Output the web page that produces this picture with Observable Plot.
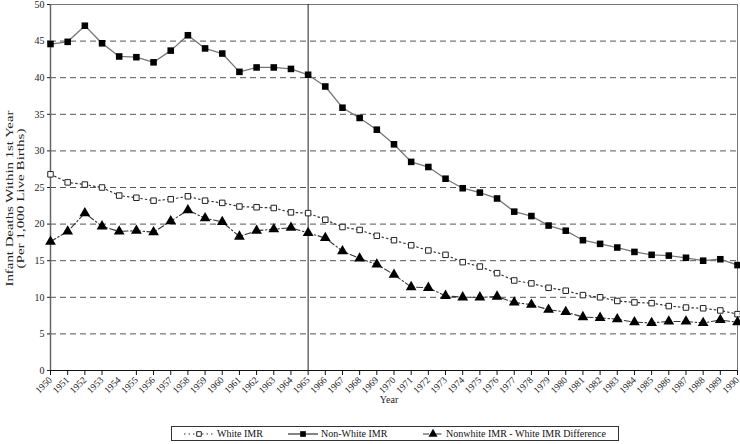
<!DOCTYPE html>
<html><head><meta charset="utf-8">
<script src="https://cdn.jsdelivr.net/npm/d3@7"></script>
<script src="https://cdn.jsdelivr.net/npm/@observablehq/plot@0.6"></script>
<style>
html,body{margin:0;padding:0;background:#fff;}
body{width:740px;height:444px;position:relative;overflow:hidden;font-family:'Liberation Serif','Tinos','Times New Roman','DejaVu Serif',serif;}
#chart{position:absolute;left:0;top:0;}
#chart svg, #chart svg text{font-family:'Liberation Serif','Tinos','Times New Roman','DejaVu Serif',serif !important;}
#legend{position:absolute;left:171px;top:426px;width:448px;height:15px;border:1px solid #333;box-sizing:border-box;font-size:10px;color:#111;}
.item{position:absolute;top:0;height:13px;display:flex;align-items:center;white-space:nowrap;}
.item svg{margin-right:3px;}
</style></head><body>
<div id="chart"></div>
<div id="legend"></div>
<script>
const years = [1950,1951,1952,1953,1954,1955,1956,1957,1958,1959,1960,1961,1962,1963,1964,1965,1966,1967,1968,1969,1970,1971,1972,1973,1974,1975,1976,1977,1978,1979,1980,1981,1982,1983,1984,1985,1986,1987,1988,1989,1990];
const whiteIMR = [26.8,25.7,25.4,25.0,23.9,23.6,23.2,23.4,23.8,23.2,22.9,22.4,22.3,22.2,21.6,21.5,20.6,19.6,19.2,18.4,17.8,17.1,16.4,15.8,14.8,14.2,13.3,12.3,11.9,11.3,10.9,10.3,10.0,9.5,9.3,9.2,8.8,8.6,8.5,8.2,7.7];
const nonWhiteIMR = [44.6,44.9,47.1,44.7,42.9,42.8,42.1,43.7,45.8,44.0,43.3,40.8,41.4,41.4,41.2,40.4,38.8,35.9,34.5,32.9,30.9,28.5,27.8,26.2,24.9,24.3,23.5,21.7,21.1,19.8,19.1,17.8,17.3,16.8,16.2,15.8,15.7,15.4,15.0,15.2,14.4];
const diffIMR = [17.6,19.0,21.5,19.7,19.0,19.1,18.9,20.4,21.9,20.8,20.3,18.3,19.1,19.3,19.5,18.8,18.1,16.3,15.3,14.5,13.1,11.4,11.3,10.2,10.0,10.0,10.1,9.3,9.0,8.3,8.0,7.3,7.2,7.0,6.6,6.5,6.7,6.7,6.5,6.9,6.6];
const yTicks = [0,5,10,15,20,25,30,35,40,45,50];
const gridValues = [5,10,15,20,25,30,35,40,45];
const markerYear = 1965;
const seriesNames = ["White IMR","Non-White IMR","Nonwhite IMR - White IMR Difference"];
const yTitle = "Infant Deaths Within 1st Year\n(Per 1,000 Live Births)";
const xTitle = "Year";

const rows = (vals) => years.map((y, i) => ({year: y, value: vals[i]}));
const white = rows(whiteIMR), nonWhite = rows(nonWhiteIMR), diff = rows(diffIMR);
const tickYears = years.filter(y => y !== 1954);
const serif = "'Liberation Serif','Tinos','Times New Roman','DejaVu Serif',serif";

const plot = Plot.plot({
  width: 740, height: 412,
  marginLeft: 50, marginRight: 3, marginTop: 4, marginBottom: 42,
  style: {fontFamily: serif, fontSize: "10px", background: "white", color: "#222"},
  x: {domain: [1950, 1990]},
  y: {domain: [0, 50]},
  marks: [
    Plot.ruleY(gridValues, {stroke: "#555", strokeDasharray: "6,4", strokeWidth: 1}),
    Plot.frame({stroke: "#777", strokeWidth: 1}),
    Plot.ruleX([markerYear], {stroke: "#222", strokeWidth: 1}),
    Plot.ruleX([1950], {stroke: "#666", strokeWidth: 1.5}),
    Plot.ruleY([0], {stroke: "#111", strokeWidth: 1.2}),
    Plot.axisY({ticks: yTicks, tickSize: 3, tickPadding: 3, tickFormat: d => String(d), label: null, fontSize: 10, stroke: "#222"}),
    Plot.axisX({ticks: tickYears, tickSize: 5, tickFormat: () => "", label: null, stroke: "#111"}),
    Plot.axisX({ticks: years, tickSize: 0, tickPadding: 8, tickRotate: -45, tickFormat: d => String(d), label: null, fontSize: 9.5}),
    Plot.text([yTitle], {frameAnchor: "left", textAnchor: "middle", dx: -36, dy: 11, rotate: -90, fontSize: 10, lineHeight: 1.1, fill: "#222"}),
    Plot.text([xTitle], {frameAnchor: "bottom", dy: 32, dx: -5, fontSize: 10, fill: "#222"}),
    Plot.line(nonWhite, {x: "year", y: "value", stroke: "#777", strokeWidth: 1.3}),
    Plot.line(white, {x: "year", y: "value", stroke: "#333", strokeWidth: 1.2, strokeDasharray: "1.5,3"}),
    Plot.line(diff, {x: "year", y: "value", stroke: "#333", strokeWidth: 1.1, strokeDasharray: "6,2.5,1.5,2.5"}),
    Plot.dot(white, {x: "year", y: "value", symbol: "square", r: 3.1, fill: "white", stroke: "#222", strokeWidth: 1}),
    Plot.dot(nonWhite, {x: "year", y: "value", symbol: "square", r: 3.7, fill: "black", stroke: "none"}),
    Plot.dot(diff, {x: "year", y: "value", symbol: "triangle", r: 4, fill: "black", stroke: "none"})
  ]
});
document.getElementById("chart").appendChild(plot);

// stretch the rotated y-axis title lines to the reference's length
const titleLengths = [176, 140];
d3.select(plot).selectAll("text").filter(function() { return this.textContent.startsWith("Infant"); })
  .selectAll("tspan").each(function(_, i) {
    d3.select(this).attr("textLength", titleLengths[i]).attr("lengthAdjust", "spacingAndGlyphs");
  });

// Legend
const legend = d3.select("#legend");
const swatches = [
  {left: 12, dash: "1.5,3", stroke: "#333", sym: "square", fill: "white", symStroke: "#222", r: 2.6, width: 30},
  {left: 116, dash: null, stroke: "#333", sym: "square", fill: "black", symStroke: "none", r: 3.2, width: 30},
  {left: 251, dash: "6,2.5,1.5,2.5", stroke: "#333", sym: "triangle", fill: "black", symStroke: "none", r: 3.4, width: 20}
];
swatches.forEach((s, i) => {
  const it = legend.append("div").attr("class", "item").style("left", s.left + "px");
  const svg = it.append("svg").attr("width", s.width).attr("height", 12);
  svg.append("line").attr("x1", 0).attr("x2", s.width).attr("y1", 6).attr("y2", 6)
    .attr("stroke", s.stroke).attr("stroke-width", 1.2).attr("stroke-dasharray", s.dash);
  const symType = s.sym === "square" ? d3.symbolSquare : d3.symbolTriangle;
  svg.append("path").attr("transform", `translate(${s.width/2},6)`)
    .attr("d", d3.symbol(symType, s.r * s.r * Math.PI)())
    .attr("fill", s.fill).attr("stroke", s.symStroke);
  it.append("span").text(seriesNames[i]);
});
</script>
</body></html>
